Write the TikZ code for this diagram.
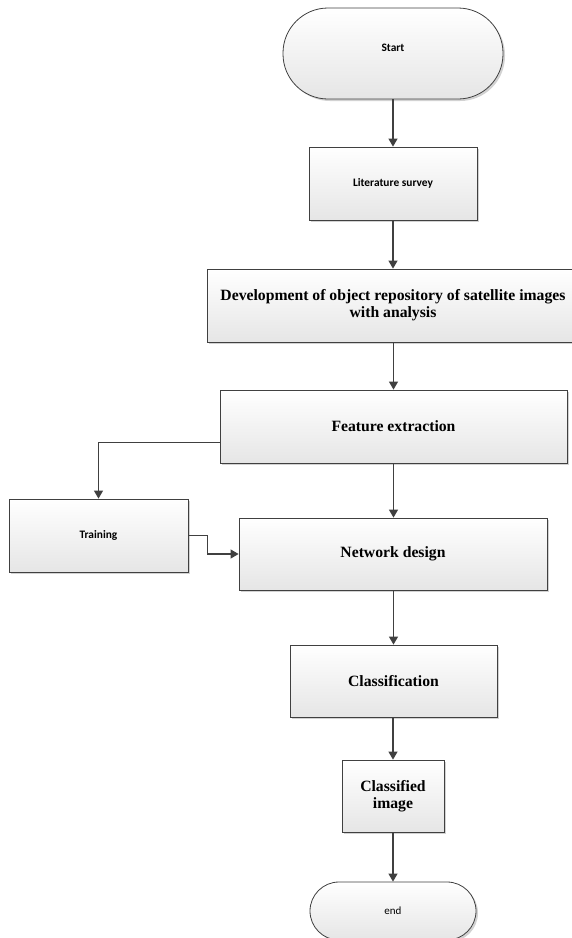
\documentclass[tikz,border=0pt]{standalone}
\usepackage{fontspec}
\setmainfont{Liberation Serif}
\newfontfamily\calibrifont{Carlito}
\usetikzlibrary{arrows.meta,shadows}
\definecolor{edgegray}{HTML}{404040}
\tikzset{
  boxbase/.style={draw=edgegray, line width=0.8pt, top color=white, bottom color=black!10,
    drop shadow={shadow xshift=2pt, shadow yshift=-2pt, fill=black!35, opacity=0.5},
    align=center, inner sep=2pt},
  procbox/.style={boxbase, rectangle},
  termbox/.style={boxbase, rectangle},
  serifbig/.style={font=\fontsize{15.7}{17}\selectfont\bfseries},
  sanssmall/.style={font=\calibrifont\fontsize{11.4}{13}\selectfont\bfseries},
  flow/.style={draw=edgegray, line width=1.2pt, -{Triangle[length=8pt,width=9pt]}}
}
\begin{document}
\begin{tikzpicture}[x=1pt,y=-1pt]
\useasboundingbox (0,0) rectangle (572,938);
\node[termbox, sanssmall, minimum width=220pt, minimum height=91pt, rounded corners=45pt, text depth=12pt] (start) at (393,53.5) {Start};
\node[procbox, sanssmall, minimum width=168pt, minimum height=73pt] (lit) at (393,183.5) {Literature survey};
\node[procbox, serifbig, minimum width=372pt, minimum height=73pt] (dev) at (393,305.5) {Development of object repository of satellite images\\with analysis};
\node[procbox, serifbig, minimum width=347pt, minimum height=73pt] (feat) at (393.5,426.5) {Feature extraction};
\node[procbox, sanssmall, minimum width=179pt, minimum height=73pt] (train) at (98.5,535.5) {Training};
\node[procbox, serifbig, minimum width=308pt, minimum height=72pt] (net) at (393,554) {Network design};
\node[procbox, serifbig, minimum width=207pt, minimum height=72pt] (cls) at (393.5,681) {Classification};
\node[procbox, serifbig, minimum width=102pt, minimum height=72pt] (img) at (393,796) {Classified\\image};
\node[termbox, font=\calibrifont\fontsize{11}{13}\selectfont, minimum width=166pt, minimum height=58pt, rounded corners=29pt] (end) at (393,911) {end};
\draw[flow] (start) -- (lit);
\draw[flow] (lit) -- (dev);
\draw[flow] (dev.south -| feat.north) -- (feat);
\draw[flow] (feat) -- (net.north -| feat.south);
\draw[flow] ([yshift=-16pt]feat.west) -| (train.north);
\draw[flow] (train.east) -- ++(19,0) |- (net.west);
\draw[flow] (net.south -| cls.north) -- (cls);
\draw[flow] (cls.south -| img.north) -- (img);
\draw[flow] (img) -- (end);
\end{tikzpicture}
\end{document}
